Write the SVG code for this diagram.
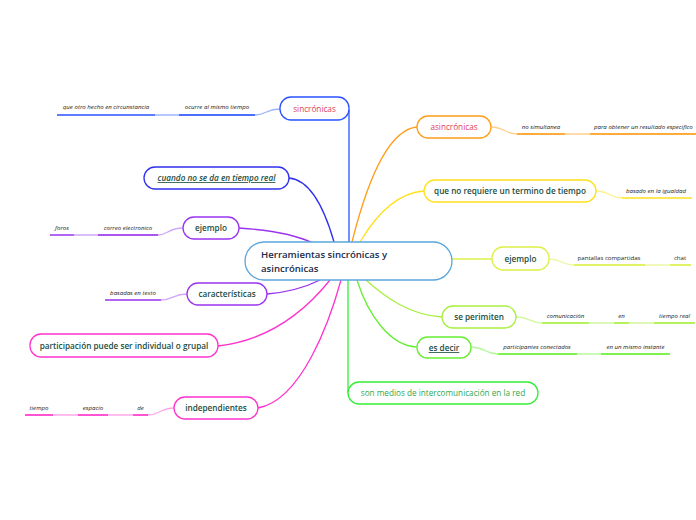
<svg xmlns="http://www.w3.org/2000/svg" width="696" height="520" viewBox="0 0 696 520">
<style>
.n{fill:#fff;stroke-width:1.3}
.t{font-family:"Open Sans","Noto Sans",sans-serif;font-size:8.2px;font-weight:600;fill:#1b4d3e;text-anchor:middle}
.r{fill:#e0405a;font-weight:400}
.s{font-family:"Open Sans","Noto Sans",sans-serif;font-size:6.1px;font-style:italic;fill:#222;text-anchor:middle}
.c path{fill:none;stroke-width:1.3}
.u{stroke-width:2.2}
.l{stroke-width:1}
</style>
<rect width="696" height="520" fill="#fff"/>
<g class="c" id="connectors">
<path d="M349,242 V110" stroke="#2a52ff"/>
<path d="M289,178 C312,180 326,214 334,242" stroke="#3030ee"/>
<path d="M239,228 C270,230 296,235 313,243" stroke="#9a33f0"/>
<path d="M267,294 C290,292 306,287 320,280" stroke="#9a33f0"/>
<path d="M218,346 C270,340 306,310 330,280" stroke="#ff33cc"/>
<path d="M258,408 C302,400 330,320 341,280" stroke="#ff33cc"/>
<path d="M417,127 C386,130 365,190 352,242" stroke="#ff9d1a"/>
<path d="M424,191 C396,193 376,215 360,242" stroke="#ffe01a"/>
<path d="M452,259 H492" stroke="#dcf046"/>
<path d="M442,317 C410,315 386,298 366,280" stroke="#a8f040"/>
<path d="M417,347 C390,346 368,315 357,280" stroke="#66ee33"/>
<path d="M348,280 V393" stroke="#33ee33"/>
<path class="l" d="M280,109 C266,109 266,115 255,115 H155" stroke="#9fb4ff"/>
<path class="u" d="M179,115 H255 M57,115 H155" stroke="#2a52ff"/>
<path class="l" d="M183,228 C168,228 168,235 158,235 H74" stroke="#d0a8f8"/>
<path class="u" d="M98,235 H158 M50,235 H74" stroke="#9a33f0"/>
<path class="l" d="M187,294 C173,294 173,300 161,300" stroke="#d0a8f8"/>
<path class="u" d="M105,300 H161" stroke="#9a33f0"/>
<path class="l" d="M174,408 C160,408 160,415 148,415 H25" stroke="#ffa8e8"/>
<path class="u" d="M133,415 H148 M78,415 H108 M25,415 H53" stroke="#ff33cc"/>
<path class="l" d="M491,127 C505,127 505,134 517,134 H696" stroke="#ffd08c"/>
<path class="u" d="M517,134 H565 M590,134 H696" stroke="#ff9d1a"/>
<path class="l" d="M596,191 C610,191 610,198 622,198" stroke="#fff08c"/>
<path class="u" d="M622,198 H692" stroke="#ffe01a"/>
<path class="l" d="M549,259 C562,259 562,265 574,265 H691" stroke="#eef8a8"/>
<path class="u" d="M574,265 H645 M670,265 H691" stroke="#dcf046"/>
<path class="l" d="M516,317 C530,317 530,323 542,323 H695" stroke="#d4f8a0"/>
<path class="u" d="M542,323 H589 M614,323 H629 M654,323 H695" stroke="#a8f040"/>
<path class="l" d="M471,347 C485,347 485,354 498,354 H670" stroke="#b8f7a0"/>
<path class="u" d="M498,354 H577 M601,354 H670" stroke="#66ee33"/>
</g>
<g id="center">
<rect class="n" x="245" y="242" width="207" height="38" rx="19" stroke="#5aa5dc"/>
<text x="261" y="258" style="font-family:'Open Sans','Noto Sans',sans-serif;font-size:9.6px;font-weight:600;fill:#1a2a4a">Herramientas sincrónicas y</text>
<text x="261" y="272" style="font-family:'Open Sans','Noto Sans',sans-serif;font-size:9.6px;font-weight:600;fill:#1a2a4a">asincrónicas</text>
</g>
<g id="sincronicas">
<rect class="n" x="280" y="97" width="69" height="23" rx="11" stroke="#2a52ff"/>
<text class="t r" x="314.5" y="112">sincrónicas</text>
</g>
<g id="ocurre"><text class="s" x="217" y="109">ocurre al mismo tiempo</text></g>
<g id="queotro"><text class="s" x="106" y="109">que otro hecho en circunstancia</text></g>
<g id="cuando">
<rect class="n" x="144" y="167" width="145" height="22" rx="11" stroke="#3030ee"/>
<text class="t" x="216.5" y="181" style="font-style:italic;text-decoration:underline">cuando no se da en tiempo real</text>
</g>
<g id="ejemplo1">
<rect class="n" x="183" y="217" width="56" height="22" rx="11" stroke="#9a33f0"/>
<text class="t" x="211" y="231">ejemplo</text>
</g>
<g id="correo"><text class="s" x="128" y="230">correo electronico</text></g>
<g id="foros"><text class="s" x="62" y="230">foros</text></g>
<g id="caracteristicas">
<rect class="n" x="187" y="283" width="80" height="22" rx="11" stroke="#9a33f0"/>
<text class="t" x="227" y="297">características</text>
</g>
<g id="basadas"><text class="s" x="133" y="295">basadas en texto</text></g>
<g id="participacion">
<rect class="n" x="30" y="334" width="188" height="23" rx="11" stroke="#ff33cc"/>
<text class="t" x="124" y="349">participación puede ser individual o grupal</text>
</g>
<g id="independientes">
<rect class="n" x="174" y="397" width="84" height="22" rx="11" stroke="#ff33cc"/>
<text class="t" x="216" y="411">independientes</text>
</g>
<g id="de"><text class="s" x="140.5" y="410">de</text></g>
<g id="espacio"><text class="s" x="93" y="410">espacio</text></g>
<g id="tiempo"><text class="s" x="39" y="410">tiempo</text></g>
<g id="asincronicas">
<rect class="n" x="417" y="116" width="74" height="22" rx="11" stroke="#ff9d1a"/>
<text class="t r" x="454" y="130">asincrónicas</text>
</g>
<g id="nosimultanea"><text class="s" x="541" y="129">no simultanea</text></g>
<g id="paraobtener"><text class="s" x="594" y="129" style="text-anchor:start">para obtener un resultado especifico</text></g>
<g id="quenorequiere">
<rect class="n" x="424" y="180" width="172" height="22" rx="11" stroke="#ffe01a"/>
<text class="t" x="510" y="194">que no requiere un termino de tiempo</text>
</g>
<g id="basado"><text class="s" x="656" y="193">basado en la igualdad</text></g>
<g id="ejemplo2">
<rect class="n" x="492" y="247" width="57" height="23" rx="11" stroke="#dcf046"/>
<text class="t" x="520.5" y="262">ejemplo</text>
</g>
<g id="pantallas"><text class="s" x="609" y="260" style="font-style:normal">pantallas compartidas</text></g>
<g id="chat"><text class="s" x="680" y="260" style="font-style:normal">chat</text></g>
<g id="seperimiten">
<rect class="n" x="442" y="306" width="74" height="22" rx="11" stroke="#a8f040"/>
<text class="t" x="479" y="320">se perimiten</text>
</g>
<g id="comunicacion"><text class="s" x="565.5" y="318">comunicación</text></g>
<g id="en"><text class="s" x="621.5" y="318">en</text></g>
<g id="tiemporeal"><text class="s" x="674.5" y="318">tiempo real</text></g>
<g id="esdecir">
<rect class="n" x="417" y="337" width="54" height="21" rx="10.5" stroke="#66ee33"/>
<text class="t" x="444" y="351" style="text-decoration:underline">es decir</text>
</g>
<g id="participantes"><text class="s" x="537" y="349">participantes conectados</text></g>
<g id="enunmismo"><text class="s" x="635.5" y="349">en un mismo instante</text></g>
<g id="sonmedios">
<rect class="n" x="348" y="382" width="190" height="22" rx="11" stroke="#33ee33"/>
<text class="t" x="443" y="396" style="font-weight:400;fill:#2ea84e">son medios de intercomunicación en la red</text>
</g>
</svg>
